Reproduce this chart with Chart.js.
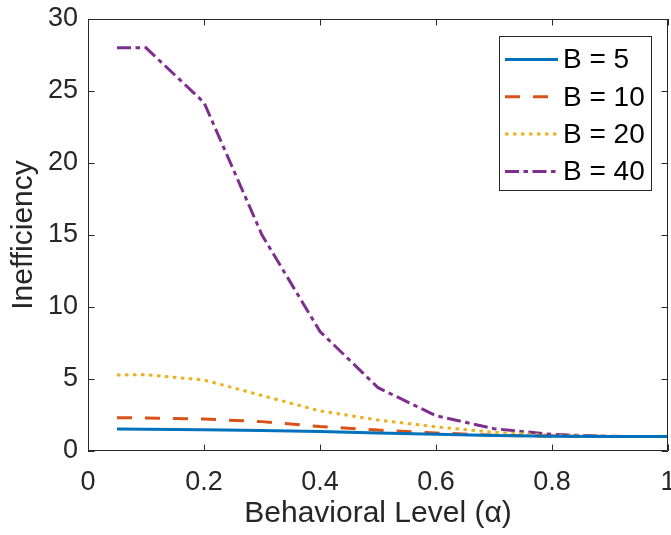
<!DOCTYPE html>
<html>
<head>
<meta charset="utf-8">
<script src="https://cdn.jsdelivr.net/npm/chart.js@4/dist/chart.umd.min.js"></script>
<style>
html,body{margin:0;padding:0;background:#fff;}
#wrap{width:671px;height:535px;}
</style>
</head>
<body>
<div id="wrap"><canvas id="c" width="671" height="535"></canvas></div>
<script>
const alphaLevels = [0.05, 0.1, 0.2, 0.3, 0.4, 0.5, 0.6, 0.7, 0.8, 0.9, 1.0];
const seriesLabels = ['B = 5', 'B = 10', 'B = 20', 'B = 40'];
const b5  = [1.52, 1.51, 1.47, 1.42, 1.35, 1.25, 1.16, 1.08, 1.03, 1.01, 1.0];
const b10 = [2.31, 2.30, 2.22, 2.04, 1.70, 1.45, 1.25, 1.10, 1.03, 1.01, 1.0];
const b20 = [5.28, 5.30, 4.93, 3.85, 2.78, 2.15, 1.68, 1.30, 1.08, 1.01, 1.0];
const b40 = [28.0, 28.0, 24.2, 15.0, 8.3, 4.4, 2.45, 1.55, 1.15, 1.02, 1.0];
const xTicks = [0, 0.2, 0.4, 0.6, 0.8, 1];
const yTicks = [0, 5, 10, 15, 20, 25, 30];

const FONT = '"Liberation Sans", Arial, Helvetica, sans-serif';
const AXIS = '#262626';

function pts(vals){ return alphaLevels.map((x,i)=>({x:x, y:vals[i]})); }

const styles = [
  {color:'#0072BD', dash:[]},
  {color:'#D95319', dash:[15,13]},
  {color:'#EDB120', dash:[3.5,4.5]},
  {color:'#7E2F8E', dash:[14,4.5,4.5,4.5]}
];
const allVals = [b5, b10, b20, b40];

const datasets = allVals.map((v,i)=>({
  label: seriesLabels[i],
  data: pts(v),
  borderColor: styles[i].color,
  backgroundColor: styles[i].color,
  borderDash: styles[i].dash,
  borderWidth: 3,
  pointRadius: 0,
  tension: 0,
  fill: false
}));

const framePlugin = {
  id: 'frame',
  afterDatasetsDraw(chart){
    const {ctx, chartArea:a, scales:{x, y}} = chart;
    ctx.save();
    ctx.strokeStyle = AXIS;
    ctx.lineWidth = 1;
    ctx.setLineDash([]);
    ctx.beginPath();
    ctx.rect(a.left+0.5, a.top+0.5, a.right-a.left-1, a.bottom-a.top-1);
    ctx.stroke();
    const tl = 6.5;
    ctx.beginPath();
    xTicks.forEach(v=>{
      const px = Math.round(x.getPixelForValue(v))+0.5;
      ctx.moveTo(px, a.bottom); ctx.lineTo(px, a.bottom-tl);
      ctx.moveTo(px, a.top); ctx.lineTo(px, a.top+tl);
    });
    yTicks.forEach(v=>{
      const py = Math.round(y.getPixelForValue(v))+0.5;
      ctx.moveTo(a.left, py); ctx.lineTo(a.left+tl, py);
      ctx.moveTo(a.right, py); ctx.lineTo(a.right-tl, py);
    });
    ctx.stroke();
    ctx.restore();
  }
};

const legendPlugin = {
  id: 'boxLegend',
  afterDraw(chart){
    const {ctx} = chart;
    const bx = 499.5, by = 36.5, bw = 152, bh = 154;
    ctx.save();
    ctx.fillStyle = '#fff';
    ctx.fillRect(bx, by, bw, bh);
    ctx.strokeStyle = AXIS;
    ctx.lineWidth = 1;
    ctx.setLineDash([]);
    ctx.strokeRect(bx, by, bw, bh);
    ctx.font = '28px ' + FONT;
    ctx.textBaseline = 'middle';
    ctx.textAlign = 'left';
    chart.data.datasets.forEach((ds,i)=>{
      const cy = 59.5 + i*37.3;
      ctx.strokeStyle = ds.borderColor;
      ctx.lineWidth = ds.borderWidth;
      ctx.setLineDash(ds.borderDash);
      ctx.beginPath();
      ctx.moveTo(505, cy); ctx.lineTo(558, cy);
      ctx.stroke();
      ctx.fillStyle = '#000';
      ctx.fillText(ds.label, 563, cy+1);
    });
    ctx.restore();
  }
};

new Chart(document.getElementById('c'), {
  type: 'line',
  data: { datasets },
  options: {
    responsive: false,
    animation: false,
    devicePixelRatio: 1,
    layout: { padding: { top: 19, right: 3, left: 0, bottom: 0 } },
    plugins: { legend: {display:false}, tooltip: {enabled:false} },
    scales: {
      x: {
        type: 'linear', min: 0, max: 1,
        afterBuildTicks(s){ s.ticks = xTicks.map(v=>({value:v})); },
        afterFit(s){ s.height = 84; s.paddingLeft = 0; s.paddingRight = 0; },
        grid: { display:false, drawTicks:false },
        border: { display:false },
        ticks: { color:'#262626', font:{family:FONT, size:27}, padding: 15,
                 maxRotation: 0, autoSkip: false,
                 callback: v => String(+v.toFixed(1)) },
        title: { display:true, text:'Behavioral Level (α)', color:'#262626',
                 font:{family:FONT, size:30}, padding:{top:0,bottom:3} }
      },
      y: {
        type: 'linear', min: 0, max: 30,
        afterBuildTicks(s){ s.ticks = yTicks.map(v=>({value:v})); },
        afterFit(s){ s.width = 88; s.paddingTop = 0; s.paddingBottom = 0; },
        grid: { display:false, drawTicks:false },
        border: { display:false },
        ticks: { color:'#262626', font:{family:FONT, size:27}, padding: 10, autoSkip:false },
        title: { display:true, text:'Inefficiency', color:'#262626',
                 font:{family:FONT, size:30}, padding:{top:6,bottom:0} }
      }
    }
  },
  plugins: [framePlugin, legendPlugin]
});
</script>
</body>
</html>
